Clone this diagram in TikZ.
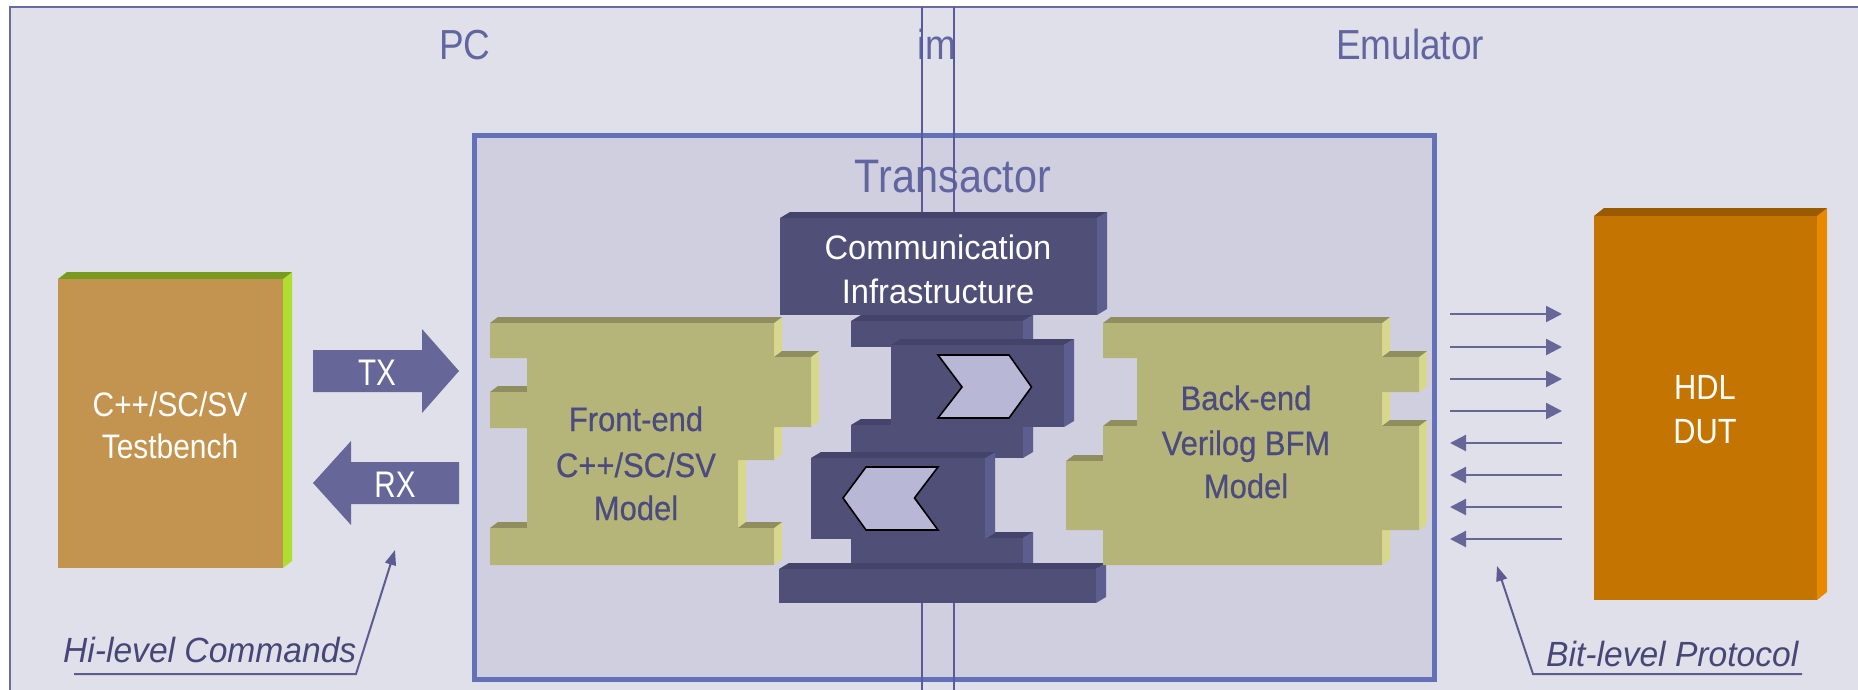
\documentclass[tikz,border=0pt]{standalone}
\usepackage{fontspec}
\setmainfont{Liberation Sans}
\newfontfamily\fNa{Liberation Sans}[FakeStretch=0.80]
\newfontfamily\fNb{Liberation Sans}[FakeStretch=0.88]
\newfontfamily\fNc{Liberation Sans}[FakeStretch=0.88]
\newfontfamily\fNe{Liberation Sans}[FakeStretch=0.91,FakeBold=0.5]
\newfontfamily\fNd{Liberation Sans}[FakeStretch=0.96]
\usetikzlibrary{arrows.meta}

\definecolor{pagebg}{HTML}{E0E0EA}
\definecolor{framec}{HTML}{6A6AA0}
\definecolor{transbg}{HTML}{CFCFE0}
\definecolor{transbd}{HTML}{6470B8}
\definecolor{titlec}{HTML}{6266A0}
\definecolor{arrowc}{HTML}{676699}
\definecolor{labelc}{HTML}{474777}
\definecolor{ptrc}{HTML}{5C5C92}
\definecolor{splitc}{HTML}{5A5A9A}
\definecolor{darkF}{HTML}{504F78}
\definecolor{darkT}{HTML}{44436A}
\definecolor{darkS}{HTML}{5E5D90}
\definecolor{chevc}{HTML}{B8B8D6}
\definecolor{oliveF}{HTML}{B5B57A}
\definecolor{oliveT}{HTML}{8E8E5E}
\definecolor{oliveS}{HTML}{D8D88C}
\definecolor{blocktxt}{HTML}{4B4B80}
\definecolor{tbF}{HTML}{C39450}
\definecolor{tbT}{HTML}{789A1E}
\definecolor{tbS}{HTML}{AEDF2C}
\definecolor{hdlF}{HTML}{C47400}
\definecolor{hdlT}{HTML}{9A5A00}
\definecolor{hdlS}{HTML}{E88A00}

% extrusion offsets for the pseudo-3D solids
\def\ex{8}\def\ey{6}
% faces seen on right-facing edges: x/ytop/ybottom
\newcommand\rightfaces[2]{\foreach \xx/\ya/\yb in {#2}{%
  \fill[#1] (\xx,\ya) -- ({\xx+\ex},{\ya-\ey}) -- ({\xx+\ex},{\yb-\ey}) -- (\xx,\yb) -- cycle;}}
% faces seen on top-facing edges: y/xleft/xright
\newcommand\topfaces[2]{\foreach \yy/\xa/\xb in {#2}{%
  \fill[#1] (\xa,\yy) -- ({\xa+\ex},{\yy-\ey}) -- ({\xb+\ex},{\yy-\ey}) -- (\xb,\yy) -- cycle;}}
% box: front, top, side colour; x1,y1,x2,y2 of the front face
\newcommand\slab[7]{%
  \fill[#3] (#6,#5) -- ({#6+\ex},{#5-\ey}) -- ({#6+\ex},{#7-\ey}) -- (#6,#7) -- cycle;
  \fill[#2] (#4,#5) -- ({#4+\ex},{#5-\ey}) -- ({#6+\ex},{#5-\ey}) -- (#6,#5) -- cycle;
  \fill[#1] (#4,#5) rectangle (#6,#7);}

\begin{document}
\begin{tikzpicture}[x=1pt,y=-1pt,
  txt/.style={inner sep=0pt, anchor=base},
  title/.style={txt, text=titlec, font=\fNc\fontsize{42}{50}\selectfont},
  tbtxt/.style={txt, text=white, font=\fNb\fontsize{34}{42}\selectfont},
  bigarrowtxt/.style={txt, text=white, font=\fNa\fontsize{37}{44}\selectfont},
  oltxt/.style={txt, text=blocktxt, font=\fNe\fontsize{34}{44}\selectfont},
  commtxt/.style={txt, text=white, font=\fNd\fontsize{34}{44}\selectfont},
  hdltxt/.style={txt, text=white, font=\fNc\fontsize{35}{44}\selectfont},
  note/.style={inner sep=0pt, anchor=base west, text=labelc, font=\fNd\itshape\fontsize{35}{44}\selectfont},
  bit/.style={draw=arrowc, line width=2.3pt, -{Triangle[length=16pt,width=16pt]}},
  ptr/.style={draw=ptrc, line width=2pt, -{Triangle[length=15pt,width=11pt]}},
  chev/.style={fill=chevc, draw=black, line width=1.6pt, line join=miter}]
\useasboundingbox (0,0) rectangle (1858,690);
\clip (0,0) rectangle (1858,690);
\fill[white] (0,0) rectangle (1858,690);

% outer frame
\filldraw[fill=pagebg, draw=framec, line width=2pt] (10,7.5) rectangle (1880,720);

% titles
\node[title] (pc) at (465,60) {PC};
\node[title] (emu) at (1410,60) {Emulator};
\node[title] (im) at (937,60) {im};

% transactor container
\filldraw[fill=transbg, draw=transbd, line width=5pt] (474,135.5) rectangle (1434,679.5);
\node[title, font=\fNc\fontsize{47}{56}\selectfont] (trans) at (953,193) {Transactor};

% split lines
\draw[splitc, line width=1.6pt] (921.7,7.5) -- (921.7,690);
\draw[splitc, line width=1.6pt] (953.7,7.5) -- (953.7,690);

% communication stack
\def\ex{10}\def\ey{6}
\slab{darkF}{darkT}{darkS}{851}{321}{1023}{347}
\slab{darkF}{darkT}{darkS}{851}{425}{1023}{458}
\slab{darkF}{darkT}{darkS}{851}{538}{1023}{570}
\slab{darkF}{darkT}{darkS}{891}{345}{1064}{427}
\slab{darkF}{darkT}{darkS}{811}{458}{985}{539}
\slab{darkF}{darkT}{darkS}{780}{218}{1097}{315}
\slab{darkF}{darkT}{darkS}{779}{569}{1096}{603}
\filldraw[chev] (938,355) -- (1009,355) -- (1031.5,387) -- (1009,418) -- (938,418) -- (962,387) -- cycle;
\filldraw[chev] (843,498) -- (866,467) -- (938,467) -- (914.5,498) -- (938,530) -- (866,530) -- cycle;
\node[commtxt] (comm1) at (938,259) {Communication};
\node[commtxt] (comm2) at (938,303) {Infrastructure};

% front-end model
\def\ex{8}\def\ey{6}
\rightfaces{oliveS}{774/323/357, 811/357/427, 774/427/460, 738/460/528, 774/528/565}
\topfaces{oliveT}{323/490/774, 357/774/811, 392/490/527, 528/490/527, 528/738/774}
\fill[oliveF] (490,323) -- (774,323) -- (774,357) -- (811,357) -- (811,427) -- (774,427)
  -- (774,460) -- (738,460) -- (738,528) -- (774,528) -- (774,565) -- (490,565)
  -- (490,528) -- (527,528) -- (527,428) -- (490,428) -- (490,392) -- (527,392)
  -- (527,358) -- (490,358) -- cycle;
\node[oltxt] (fe1) at (636,431) {Front-end};
\node[oltxt] (fe2) at (636,477) {C++/SC/SV};
\node[oltxt] (fe3) at (636,520) {Model};

% back-end model
\rightfaces{oliveS}{1382/323/357, 1419/357/392, 1382/392/426, 1419/426/530, 1382/530/565}
\topfaces{oliveT}{323/1103/1382, 357/1382/1419, 426/1382/1419, 426/1103/1137, 461/1066/1103}
\fill[oliveF] (1103,323) -- (1382,323) -- (1382,357) -- (1419,357) -- (1419,392) -- (1382,392)
  -- (1382,426) -- (1419,426) -- (1419,530) -- (1382,530) -- (1382,565) -- (1103,565)
  -- (1103,530) -- (1066,530) -- (1066,461) -- (1103,461) -- (1103,426) -- (1137,426)
  -- (1137,358) -- (1103,358) -- cycle;
\node[oltxt] (be1) at (1246,410) {Back-end};
\node[oltxt] (be2) at (1246,455) {Verilog BFM};
\node[oltxt] (be3) at (1246,498) {Model};

% testbench
\def\ex{9}\def\ey{7}
\slab{tbF}{tbT}{tbS}{58}{279}{283}{568}
\node[tbtxt] (tb1) at (170,416) {C++/SC/SV};
\node[tbtxt] (tb2) at (170,458) {Testbench};

% TX / RX arrows
\fill[arrowc] (313,350) -- (422,350) -- (422,329) -- (459,371) -- (422,413) -- (422,392) -- (313,392) -- cycle;
\node[bigarrowtxt] (tx) at (377,385) {TX};
\fill[arrowc] (459,462) -- (351,462) -- (351,441) -- (313,483) -- (351,525) -- (351,504) -- (459,504) -- cycle;
\node[bigarrowtxt] (rx) at (395,497) {RX};

% HDL DUT
\def\ex{10}\def\ey{8}
\slab{hdlF}{hdlT}{hdlS}{1594}{216}{1817}{600}
\node[hdltxt] (hdl1) at (1705,399) {HDL};
\node[hdltxt] (hdl2) at (1705,443) {DUT};

% bit-level signals
\foreach \i/\y in {1/314,2/347,3/379,4/411} {
  \coordinate (ol\i) at (1450,\y); \coordinate (or\i) at (1562,\y);
  \draw[bit] (ol\i) -- (or\i);}
\foreach \i/\y in {1/443,2/475,3/507,4/539} {
  \coordinate (il\i) at (1450,\y); \coordinate (ir\i) at (1562,\y);
  \draw[bit] (ir\i) -- (il\i);}

% callouts
\node[note] (hicmd) at (63,662) {Hi-level Commands};
\coordinate (hu0) at (74,674); \coordinate (hu1) at (356,674); \coordinate (htip) at (395,550);
\draw[ptr] (hu0) -- (hu1) -- (htip);
\node[note] (bitp) at (1546,666) {Bit-level Protocol};
\coordinate (bu0) at (1802,674); \coordinate (bu1) at (1533,674); \coordinate (btip) at (1497,566);
\draw[ptr] (bu0) -- (bu1) -- (btip);
\end{tikzpicture}
\end{document}
